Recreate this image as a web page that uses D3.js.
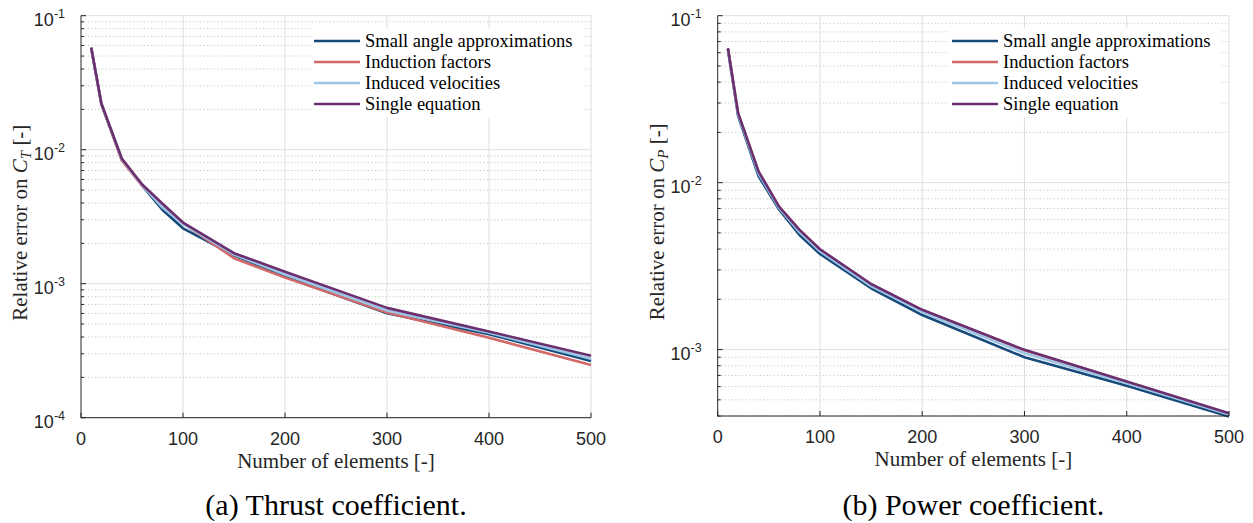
<!DOCTYPE html>
<html>
<head>
<meta charset="utf-8">
<script src="https://cdn.jsdelivr.net/npm/d3@7"></script>
<style>
  html, body { margin: 0; padding: 0; background: #fff; }
  svg { display: block; }
</style>
</head>
<body>
<svg id="fig" width="1253" height="523"></svg>
<script>
// Number of blade elements used in the discretisation
const nElements = [10, 20, 40, 60, 80, 100, 150, 200, 300, 400, 500];

// Relative error on the thrust coefficient C_T
const thrustSmallAngle = [0.0575, 0.0218, 0.0084, 0.0054, 0.00355, 0.00259, 0.00163, 0.00113, 0.000601, 0.00042, 0.000265];
const thrustInduction  = [0.0575, 0.0219, 0.0083, 0.0054, 0.0038, 0.00282, 0.00155, 0.00111, 0.00061, 0.000395, 0.000247];
const thrustVelocities = [0.0577, 0.0220, 0.0085, 0.00545, 0.0037, 0.0028, 0.00165, 0.00117, 0.00063, 0.00043, 0.000275];
const thrustSingle     = [0.0580, 0.0221, 0.0086, 0.0055, 0.00395, 0.00286, 0.00169, 0.00123, 0.00066, 0.00044, 0.00029];

// Relative error on the power coefficient C_P
const powerSmallAngle = [0.0630, 0.0250, 0.0109, 0.0069, 0.00486, 0.00374, 0.00233, 0.00161, 0.000900, 0.000607, 0.000397];
const powerInduction  = [0.0636, 0.0259, 0.0116, 0.00715, 0.0052, 0.00397, 0.00246, 0.00172, 0.00099, 0.00064, 0.000413];
const powerVelocities = [0.0634, 0.0256, 0.0113, 0.00705, 0.00505, 0.00388, 0.0024, 0.00168, 0.00095, 0.000628, 0.000408];
const powerSingle     = [0.0638, 0.0261, 0.01165, 0.00718, 0.00521, 0.00399, 0.00247, 0.00173, 0.000996, 0.000643, 0.000416];

const seriesNames = ["Small angle approximations", "Induction factors", "Induced velocities", "Single equation"];
const seriesColors = ["#164a7b", "#d36868", "#9cc4e4", "#6b2f70"];

const xTicks = [0, 100, 200, 300, 400, 500];
const thrustDecades = [-4, -3, -2, -1];
const powerDecades = [-3, -2, -1];

const svg = d3.select("#fig");
const AXIS = "#262626";
const SANS = "'Liberation Sans', Arial, sans-serif";
const SERIF = "'Liberation Serif', 'Times New Roman', serif";

function drawPanel(cfg) {
  const g = svg.append("g");
  const x = d3.scaleLinear().domain([0, 500]).range([cfg.left, cfg.right]);
  const y = d3.scaleLog().domain(cfg.yDomain).range([cfg.bottom, cfg.top]);

  // minor log grid (dotted)
  const minor = [];
  for (let d = -5; d <= 0; d++) {
    for (let k = 2; k <= 9; k++) {
      const v = k * Math.pow(10, d);
      if (v >= cfg.yDomain[0] * 0.999 && v <= cfg.yDomain[1]) minor.push(v);
    }
  }
  g.append("g").selectAll("line").data(minor).join("line")
    .attr("x1", cfg.left).attr("x2", cfg.right)
    .attr("y1", d => y(d)).attr("y2", d => y(d))
    .attr("stroke", "#c8c8c8").attr("stroke-width", 1)
    .attr("stroke-dasharray", "1.2,2.3");

  // major grid
  const majorY = cfg.decades.map(d => Math.pow(10, d));
  g.append("g").selectAll("line").data(majorY).join("line")
    .attr("x1", cfg.left).attr("x2", cfg.right)
    .attr("y1", d => y(d)).attr("y2", d => y(d))
    .attr("stroke", "#dedede").attr("stroke-width", 1);
  g.append("g").selectAll("line").data(xTicks.filter(t => t > 0)).join("line")
    .attr("x1", d => x(d)).attr("x2", d => x(d))
    .attr("y1", cfg.top).attr("y2", cfg.bottom)
    .attr("stroke", "#dedede").attr("stroke-width", 1);

  // curves
  const line = d3.line().x((d, i) => x(nElements[i])).y(d => y(d));
  cfg.series.forEach((vals, i) => {
    g.append("path").datum(vals)
      .attr("d", line)
      .attr("fill", "none")
      .attr("stroke", seriesColors[i])
      .attr("stroke-width", 2.6)
      .attr("stroke-linejoin", "round");
  });

  // axes (left and bottom only, ticks pointing inward)
  const axG = g.append("g").attr("stroke", AXIS).attr("stroke-width", 1);
  axG.append("line").attr("x1", cfg.left).attr("x2", cfg.left)
    .attr("y1", cfg.top).attr("y2", cfg.bottom + 0.5);
  axG.append("line").attr("x1", cfg.left).attr("x2", cfg.right)
    .attr("y1", cfg.bottom).attr("y2", cfg.bottom);
  axG.selectAll(".xt").data(xTicks).join("line")
    .attr("x1", d => x(d)).attr("x2", d => x(d))
    .attr("y1", cfg.bottom).attr("y2", cfg.bottom - 5);
  axG.selectAll(".ymaj").data(majorY).join("line")
    .attr("x1", cfg.left).attr("x2", cfg.left + 5)
    .attr("y1", d => y(d)).attr("y2", d => y(d));
  axG.selectAll(".ymin").data(minor).join("line")
    .attr("x1", cfg.left).attr("x2", cfg.left + 3)
    .attr("y1", d => y(d)).attr("y2", d => y(d));

  // x tick labels
  g.append("g").selectAll("text").data(xTicks).join("text")
    .attr("x", d => x(d)).attr("y", cfg.bottom + 27)
    .attr("text-anchor", "middle")
    .attr("font-family", SANS).attr("font-size", 18).attr("fill", AXIS)
    .text(d => d);

  // y tick labels as powers of ten
  cfg.decades.forEach(d => {
    const t = g.append("text")
      .attr("x", cfg.left - 16).attr("y", y(Math.pow(10, d)) + 10)
      .attr("text-anchor", "end")
      .attr("font-family", SANS).attr("font-size", 18).attr("fill", AXIS);
    t.append("tspan").text("10");
    t.append("tspan").attr("font-size", 12.5).attr("dy", -7.5).text("-" + Math.abs(d));
  });

  // axis titles
  g.append("text")
    .attr("x", (cfg.left + cfg.right) / 2).attr("y", cfg.bottom + 50)
    .attr("text-anchor", "middle")
    .attr("font-family", SERIF).attr("font-size", 21).attr("fill", AXIS)
    .text("Number of elements [-]");

  const yl = g.append("text")
    .attr("transform", `translate(${cfg.left - 54},${(cfg.top + cfg.bottom) / 2 + 6}) rotate(-90)`)
    .attr("text-anchor", "middle")
    .attr("font-family", SERIF).attr("font-size", 21).attr("fill", AXIS);
  yl.append("tspan").text("Relative error on ");
  yl.append("tspan").attr("font-style", "italic").text("C");
  yl.append("tspan").attr("font-style", "italic").attr("font-size", 15).attr("dy", 4).text(cfg.sub);
  yl.append("tspan").attr("dy", -4).text(" [-]");

  // legend
  const lx = cfg.right - 277, ly = 28;
  g.append("rect").attr("x", lx - 3).attr("y", ly).attr("width", 272).attr("height", 89)
    .attr("fill", "#fff");
  seriesNames.forEach((name, i) => {
    const yy = ly + 13 + i * 21;
    g.append("line").attr("x1", lx).attr("x2", lx + 46).attr("y1", yy).attr("y2", yy)
      .attr("stroke", seriesColors[i]).attr("stroke-width", 2.6);
    g.append("text").attr("x", lx + 51).attr("y", yy).attr("dy", "0.33em")
      .attr("font-family", SERIF).attr("font-size", 18.5).attr("fill", "#000")
      .text(name);
  });

  // caption
  svg.append("text")
    .attr("x", (cfg.left + cfg.right) / 2).attr("y", 515)
    .attr("text-anchor", "middle")
    .attr("font-family", SERIF).attr("font-size", 30).attr("fill", "#000")
    .text(cfg.caption);
}

drawPanel({
  left: 81, right: 591, top: 15.7, bottom: 417.7,
  yDomain: [1e-4, 1e-1], decades: thrustDecades,
  series: [thrustSmallAngle, thrustInduction, thrustVelocities, thrustSingle],
  sub: "T", caption: "(a) Thrust coefficient."
});

drawPanel({
  left: 717.7, right: 1229, top: 15.7, bottom: 416,
  yDomain: [4e-4, 1e-1], decades: powerDecades,
  series: [powerSmallAngle, powerInduction, powerVelocities, powerSingle],
  sub: "P", caption: "(b) Power coefficient."
});
</script>
</body>
</html>
